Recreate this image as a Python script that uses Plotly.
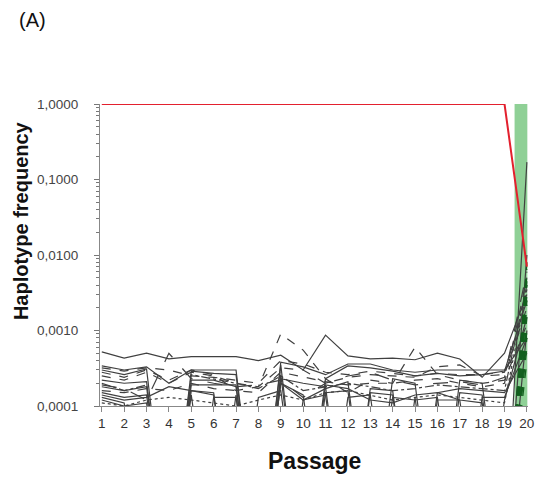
import plotly.graph_objects as go

passages = list(range(1, 21))

# Dominant haplotype (red)
dominant = [1.0] * 19 + [0.007]

# Minor haplotypes, in units of 1e-4 (0.01 = not detected, below axis)
minor_series = {
    "h01": ([5.2, 4.3, 5.0, 4.2, 4.5, 4.5, 4.5, 4.0, 4.7, 3.0, 8.7, 4.6, 4.2, 4.3, 4.1, 5.0, 4.2, 2.4, 5.0, 30], "solid"),
    "h02": ([2.8, 2.4, 3.0, 2.2, 3.0, 2.6, 1.6, 1.8, 9.0, 5.5, 2.3, 1.5, 2.2, 2.0, 6.0, 2.6, 2.2, 2.0, 2.2, 12], "dash"),
    "h03": ([1.9, 1.7, 1.2, 5.0, 2.3, 2.0, 1.8, 1.9, 2.2, 1.3, 2.0, 2.5, 2.8, 2.2, 1.9, 2.0, 2.1, 1.9, 2.4, 60], "longdash"),
    "h04": ([3.4, 3.0, 3.3, 2.0, 3.0, 3.0, 3.0, 0.01, 3.8, 3.3, 2.6, 3.6, 3.6, 3.0, 2.8, 3.0, 3.0, 3.0, 3.0, 8], "solid"),
    "h05": ([3.0, 2.6, 3.1, 0.01, 2.9, 2.7, 2.6, 0.01, 3.5, 0.01, 2.3, 3.4, 3.2, 2.9, 2.5, 2.7, 2.5, 2.6, 2.9, 25], "solid"),
    "h06": ([2.5, 2.2, 2.8, 2.0, 2.8, 2.5, 2.0, 1.8, 3.2, 3.0, 2.0, 2.4, 2.6, 2.5, 2.4, 3.3, 3.5, 2.5, 2.6, 20], "dash"),
    "h07": ([2.0, 1.6, 1.9, 0.01, 2.6, 2.3, 2.0, 1.7, 2.5, 1.6, 1.8, 2.0, 1.8, 1.6, 1.7, 1.9, 1.8, 1.7, 1.6, 40], "dashdot"),
    "h08": ([1.8, 1.6, 1.8, 0.01, 1.9, 1.9, 1.9, 0.01, 2.3, 2.0, 1.8, 0.01, 1.7, 1.6, 0.01, 1.5, 1.7, 1.6, 1.5, 5], "solid"),
    "h09": ([1.5, 1.3, 1.4, 0.01, 1.6, 1.5, 0.01, 0.01, 2.0, 1.4, 0.01, 1.3, 1.4, 0.01, 1.3, 0.01, 1.5, 1.4, 0.01, 100], "solid"),
    "h10": ([1.3, 1.1, 0.01, 0.01, 1.4, 0.01, 1.4, 0.01, 2.6, 0.01, 1.5, 1.6, 0.01, 1.3, 1.2, 1.3, 0.01, 1.3, 1.3, 8], "solid"),
    "h11": ([1.2, 1.0, 1.1, 0.01, 0.01, 1.3, 1.3, 0.01, 0.01, 1.2, 1.4, 0.01, 1.5, 1.4, 0.01, 1.2, 1.2, 0.01, 1.2, 15], "solid"),
    "h12": ([1.6, 1.5, 1.7, 1.6, 2.0, 1.7, 1.6, 1.5, 2.8, 2.4, 2.1, 1.9, 2.0, 2.0, 2.2, 2.3, 2.0, 1.8, 2.0, 50], "dash"),
    "h13": ([1.1, 1.0, 1.2, 1.3, 1.2, 1.1, 1.0, 1.2, 1.4, 1.2, 1.5, 1.6, 1.4, 1.2, 1.3, 1.4, 1.3, 1.2, 1.1, 35], "dot"),
    "h14": ([2.2, 2.0, 2.1, 0.01, 2.2, 2.2, 1.8, 0.01, 2.0, 1.2, 1.7, 2.1, 0.01, 2.3, 2.0, 0.01, 2.2, 2.0, 0.01, 10], "solid"),
    "h15": ([3.2, 2.9, 3.2, 3.0, 2.5, 2.4, 2.2, 2.0, 4.0, 3.6, 2.8, 2.6, 2.9, 2.7, 2.5, 2.7, 2.6, 2.6, 2.8, 18], "dash"),
    "h16": ([1.4, 1.2, 1.3, 1.8, 1.6, 1.4, 0.01, 1.3, 1.6, 0.01, 1.9, 1.7, 1.2, 1.1, 1.4, 1.5, 1.2, 1.1, 0.01, 1700], "solid"),
}

# Emerging haplotypes at passage 20 (green), units of 1e-4
emerging_p19 = [0.01] * 14
emerging_p20 = [80, 65, 55, 40, 30, 22, 15, 10, 8, 6, 45, 25, 12, 4]

tick_vals = [0.0001, 0.001, 0.01, 0.1, 1.0]
tick_text = ["0,0001", "0,0010", "0,0100", "0,1000", "1,0000"]

FONT = "Liberation Sans, Arial, sans-serif"

fig = go.Figure()

# green band of emerging haplotypes
fig.add_shape(type="rect", xref="x", yref="y", x0=19.45, x1=20.02, y0=0.0001, y1=1.0,
              fillcolor="rgba(100,190,110,0.72)", line=dict(width=0), layer="below")

for name, (vals, dash) in minor_series.items():
    fig.add_trace(go.Scatter(
        x=passages, y=[v * 1e-4 for v in vals], mode="lines",
        line=dict(color="#404040", width=1.2, dash=dash),
        showlegend=False, hoverinfo="skip"))

for a, b in zip(emerging_p19, emerging_p20):
    fig.add_trace(go.Scatter(
        x=[19, 20], y=[a * 1e-4, b * 1e-4], mode="lines",
        line=dict(color="#13601f", width=1.3, dash="dash"),
        showlegend=False, hoverinfo="skip"))

fig.add_trace(go.Scatter(
    x=passages, y=dominant, mode="lines",
    line=dict(color="#e3202e", width=2),
    showlegend=False, hoverinfo="skip", cliponaxis=False))

fig.update_layout(
    width=543, height=482,
    margin=dict(l=100, r=9, t=104, b=76),
    paper_bgcolor="white", plot_bgcolor="white",
    font=dict(family=FONT, color="#444"),
    xaxis=dict(
        range=[0.92, 20.05], tickmode="array", tickvals=passages,
        ticktext=[str(p) for p in passages],
        showline=True, linecolor="#888", linewidth=1.2,
        ticks="outside", ticklen=5, tickcolor="#888",
        tickfont=dict(size=13.5, color="#333", family=FONT),
        showgrid=False, zeroline=False),
    yaxis=dict(
        type="log", range=[-4, 0], tickmode="array", tickvals=tick_vals,
        ticktext=tick_text,
        showline=True, linecolor="#888", linewidth=1.2,
        ticks="outside", ticklen=5, tickcolor="#777",
        ticklabelstandoff=13,
        minor=dict(ticks="outside", ticklen=3, tickcolor="#777", dtick="D1", showgrid=False),
        tickfont=dict(size=13.5, color="#444", family=FONT),
        showgrid=False, zeroline=False),
    annotations=[
        dict(text="Passage", xref="paper", yref="paper", x=0.5, y=-55 / 302,
             xanchor="center", yanchor="middle", showarrow=False,
             font=dict(size=23, color="#111", family=FONT, weight="bold")),
        dict(text="Haplotype frequency", xref="paper", yref="paper",
             x=-80 / 434, y=(406 - 221) / 302, xanchor="center", yanchor="middle",
             textangle=-90, showarrow=False,
             font=dict(size=20, color="#111", family=FONT, weight="bold")),
        dict(text="(A)", xref="paper", yref="paper", x=-84 / 434, y=(406 - 20) / 302,
             xanchor="left", yanchor="middle", showarrow=False,
             font=dict(size=20, color="#111", family=FONT)),
    ],
)

fig.write_html("out.html")
